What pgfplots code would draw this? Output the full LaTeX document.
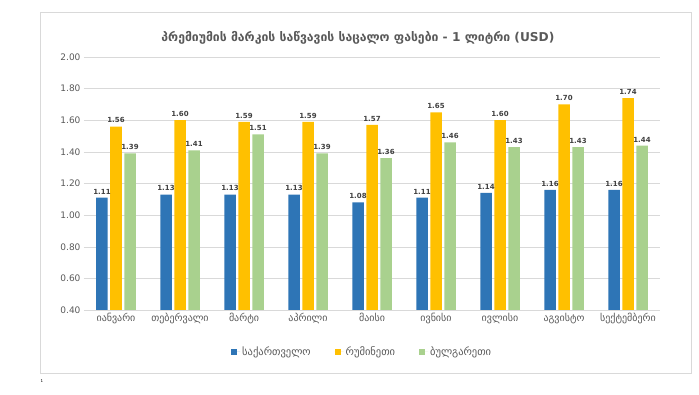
\documentclass[border=0pt]{standalone}
\usepackage{fontspec}
\setmainfont{DejaVu Sans}
\usepackage{pgfplots}
\pgfplotsset{compat=1.18}
\definecolor{cGe}{HTML}{2E75B6}
\definecolor{cRo}{HTML}{FFC000}
\definecolor{cBu}{HTML}{A9D18E}
\definecolor{txt}{HTML}{595959}
\definecolor{grd}{HTML}{D9D9D9}
\begin{document}
\begin{tikzpicture}[x=1pt,y=1pt]
\path[use as bounding box] (0,0) rectangle (699,395);
\draw[grd] (40,22) rectangle (691,383);
\node[font=\fontsize{4}{5}\selectfont] at (42,14) {1};
\node[font=\fontsize{12.2}{14}\selectfont\bfseries, text=txt] at (358,357) {პრემიუმის მარკის საწვავის საცალო ფასები - 1 ლიტრი (USD)};
\begin{axis}[
  at={(84pt,85pt)}, anchor=south west,
  scale only axis, width=576pt, height=253pt,
  ymin=0.4, ymax=2.0,
  ytick={0.4,0.6,...,2.01},
  xmin=-0.5, xmax=8.5,
  xtick={0,...,8},
  xticklabels={იანვარი,თებერვალი,მარტი,აპრილი,მაისი,ივნისი,ივლისი,აგვისტო,სექტემბერი},
  ybar=2.5pt, bar width=11.5pt,
  axis y line*=left, axis x line*=bottom,
  y axis line style={draw=none},
  x axis line style={draw=grd},
  major tick length=0pt,
  ymajorgrids, grid style={grd},
  yticklabel style={font=\fontsize{9}{10}\selectfont, text=txt},
  xticklabel style={font=\fontsize{10}{11}\selectfont, text=txt},
  /pgf/number format/assume math mode=true,
  yticklabel style={/pgf/number format/.cd, fixed, fixed zerofill, precision=2},
  nodes near coords,
  nodes near coords style={font=\fontsize{7}{8}\selectfont\bfseries, text=black!75, /pgf/number format/.cd, fixed, fixed zerofill, precision=2, assume math mode=true},
  legend style={at={(0.483,-0.166)}, anchor=center, draw=none, legend columns=3, font=\fontsize{10.5}{11}\selectfont, text=txt, /tikz/every even column/.append style={column sep=22pt}},
  legend image code/.code={\fill[#1] (0pt,-3pt) rectangle (6pt,3pt); \path (0pt,0pt) -- (9pt,0pt);},
  clip=false,
]
\addplot[fill=cGe, draw=none] coordinates {(0,1.11) (1,1.13) (2,1.13) (3,1.13) (4,1.08) (5,1.11) (6,1.14) (7,1.16) (8,1.16)};
\addplot[fill=cRo, draw=none] coordinates {(0,1.56) (1,1.60) (2,1.59) (3,1.59) (4,1.57) (5,1.65) (6,1.60) (7,1.70) (8,1.74)};
\addplot[fill=cBu, draw=none] coordinates {(0,1.39) (1,1.41) (2,1.51) (3,1.39) (4,1.36) (5,1.46) (6,1.43) (7,1.43) (8,1.44)};
\legend{საქართველო,რუმინეთი,ბულგარეთი}
\end{axis}
\end{tikzpicture}
\end{document}
